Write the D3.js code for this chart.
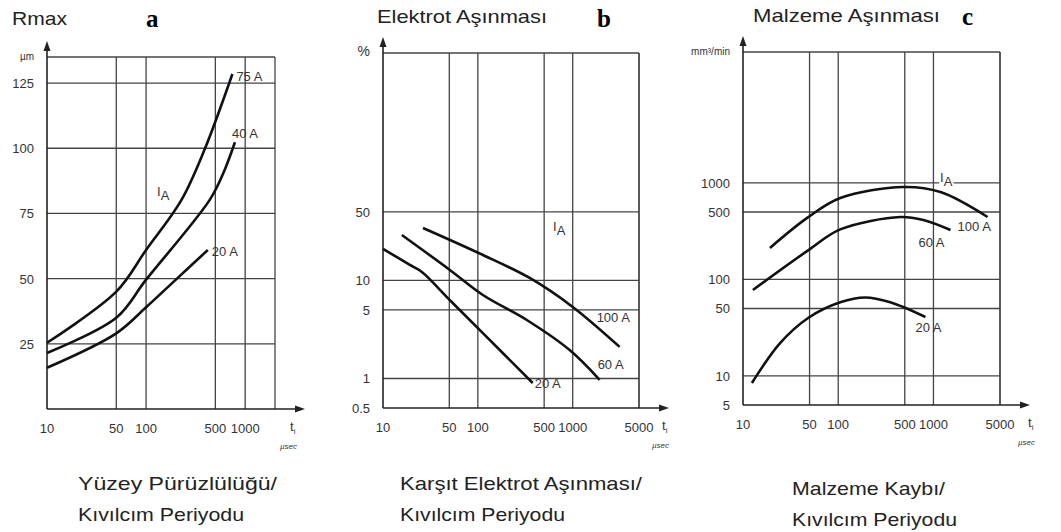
<!DOCTYPE html>
<html>
<head>
<meta charset="utf-8">
<script src="https://d3js.org/d3.v7.min.js"></script>
<style>
body { margin: 0; background: #fff; }
svg text { font-family: "Liberation Sans", Arial, sans-serif; fill: #222; }
.grid { stroke: #444; stroke-width: 1.3; fill: none; }
.curve { stroke: #111; stroke-width: 2.6; fill: none; }
.tick { font-size: 13px; fill: #333; }
.big { font-family: "Liberation Serif", serif; font-weight: bold; font-size: 25px; fill: #000; }
</style>
</head>
<body>
<svg id="chart" width="1061" height="532"></svg>
<script>
// --- data ---

// a: Rmax (µm) vs t_i (µs)
const aXTicks = [10, 50, 100, 500, 1000]
const aYTicks = [25, 50, 75, 100, 125]
const a75 = [[10, 25.4], [50, 45], [100, 61], [226, 80], [390, 99.6], [743, 128.5]]
const a40 = [[10, 21.5], [50, 35], [100, 49.6], [442, 80.4], [610, 91], [788, 102.3]]
const a20 = [[10, 15.8], [50, 29], [100, 39], [210, 50.4], [420, 61]]
const aLabels = ["75 A", "40 A", "20 A"]

// b: elektrot aşınması (%) vs t_i
const bXTicks = [10, 50, 100, 500, 1000, 5000]
const bYTicks = [0.5, 1, 5, 10, 50]
const b100 = [[26.4, 34.3], [113, 18.2], [352, 10.6], [1000, 5.37], [3125, 2.1]]
const b60 = [[15.8, 29.1], [50.7, 12.8], [113, 7.1], [328, 3.95], [929, 1.95], [1923, 0.97]]
const b20 = [[10, 21], [19.2, 14.4], [25.7, 12.2], [50.7, 6.3], [113, 2.9], [379, 0.9]]
const bLabels = ["100 A", "60 A", "20 A"]

// c: malzeme aşınması (mm³/min) vs t_i
const cXTicks = [10, 50, 100, 500, 1000, 5000]
const cYTicks = [5, 10, 50, 100, 500, 1000]
const c100 = [[19.2, 212], [47.2, 434], [105, 698], [483, 908], [1186, 805], [3700, 444]]
const c60 = [[12.7, 77.8], [50, 205], [105, 330], [450, 444], [785, 413], [1510, 325]]
const c20 = [[12.4, 8.45], [24.5, 21.9], [48.3, 39.9], [105, 58], [192, 65], [352, 58], [824, 40.8]]
const cLabels = ["100 A", "60 A", "20 A"]

const titles = ["Rmax", "Elektrot Aşınması", "Malzeme Aşınması"]
const letters = ["a", "b", "c"]
const yUnits = ["µm", "%", "mm³/min"]
const captions = [
  ["Yüzey Pürüzlülüğü/", "Kıvılcım Periyodu"],
  ["Karşıt Elektrot Aşınması/", "Kıvılcım Periyodu"],
  ["Malzeme Kaybı/", "Kıvılcım Periyodu"]
]

// --- layout for each panel ---
const panels = [
  {
    x: d3.scaleLog().domain([10, 2000]).range([47, 275]),
    y: d3.scaleLinear().domain([0, 135]).range([409, 57]),
    xTicks: aXTicks, yTicks: aYTicks, series: [a75, a40, a20], labels: aLabels,
    labelOff: [[4, 7], [-3, -4], [4, 6]],
    ia: [157, 196],
    title: [12, 25, 55], letter: [146, 27],
    caption: [78, 490, [199, 166]], tx: 290
  },
  {
    x: d3.scaleLog().domain([10, 5000]).range([383, 639]),
    y: d3.scaleLog().domain([0.5, 2090]).range([408, 53]),
    xTicks: bXTicks, yTicks: bYTicks, series: [b100, b60, b20], labels: bLabels,
    labelOff: [[-23, -25], [-2, -11], [2, 5]],
    ia: [553, 231],
    title: [377, 23, 170], letter: [597, 27],
    caption: [400, 490, [242, 165]], tx: 662
  },
  {
    x: d3.scaleLog().domain([10, 5000]).range([743, 1000]),
    y: d3.scaleLog().domain([5, 22750]).range([405, 52]),
    xTicks: cXTicks, yTicks: cYTicks, series: [c100, c60, c20], labels: cLabels,
    labelOff: [[-30, 14], [-32, 17], [-10, 15]],
    ia: [940, 182],
    title: [753, 22, 187], letter: [962, 25],
    caption: [792, 495, [153, 165]], tx: 1028
  }
]

const svg = d3.select("#chart")

panels.forEach((p, i) => {
  const g = svg.append("g")
  const [x0, x1] = p.x.range()
  const [y0, y1] = p.y.range()

  // grid lines
  g.selectAll(".vg").data(p.xTicks.slice(1)).enter().append("line")
    .attr("class", "grid")
    .attr("x1", d => p.x(d)).attr("x2", d => p.x(d))
    .attr("y1", y0).attr("y2", y1)
  g.selectAll(".hg").data(p.yTicks.filter(d => p.y(d) < y0 - 2)).enter().append("line")
    .attr("class", "grid")
    .attr("x1", x0).attr("x2", x1)
    .attr("y1", d => p.y(d)).attr("y2", d => p.y(d))

  // frame: top and right
  g.append("line").attr("class", "grid").attr("x1", x0).attr("x2", x1).attr("y1", y1).attr("y2", y1)
  g.append("line").attr("class", "grid").attr("x1", x1).attr("x2", x1).attr("y1", y1).attr("y2", y0)

  // axes with arrows
  g.append("line").attr("stroke", "#222").attr("stroke-width", 1.6)
    .attr("x1", x0).attr("x2", x1 + 24).attr("y1", y0).attr("y2", y0)
  g.append("path").attr("fill", "#222")
    .attr("d", `M${x1 + 30},${y0} L${x1 + 20},${y0 - 3.5} L${x1 + 20},${y0 + 3.5} Z`)
  g.append("line").attr("stroke", "#222").attr("stroke-width", 1.6)
    .attr("x1", x0).attr("x2", x0).attr("y1", y0).attr("y2", y1 - 10)
  g.append("path").attr("fill", "#222")
    .attr("d", `M${x0},${y1 - 16} L${x0 - 3.5},${y1 - 6} L${x0 + 3.5},${y1 - 6} Z`)

  // tick labels
  g.selectAll(".xt").data(p.xTicks).enter().append("text")
    .attr("class", "tick")
    .attr("x", d => p.x(d)).attr("y", y0 + 24)
    .attr("text-anchor", "middle")
    .text(d => d)
  g.selectAll(".yt").data(p.yTicks).enter().append("text")
    .attr("class", "tick")
    .attr("x", x0 - 13).attr("y", d => p.y(d) + 5)
    .attr("text-anchor", "end")
    .text(d => d)
  g.append("text").attr("class", "tick")
    .attr("x", x0 - 13).attr("y", y1 + 3)
    .attr("text-anchor", "end")
    .style("font-size", i == 1 ? "14px" : "10px")
    .text(yUnits[i])

  // t_i / µsec
  const t = g.append("text").attr("class", "tick").attr("x", p.tx).attr("y", y0 + 22)
  t.append("tspan").text("t")
  t.append("tspan").attr("dy", 3).style("font-size", "8px").text("i")
  g.append("text").attr("class", "tick")
    .attr("x", p.tx - 10).attr("y", y0 + 40)
    .style("font-size", "8px").style("font-style", "italic")
    .text("µsec")

  // curves
  const line = d3.line()
    .x(d => p.x(d[0])).y(d => p.y(d[1]))
    .curve(d3.curveCatmullRom.alpha(0.5))
  g.selectAll(".curve").data(p.series).enter().append("path")
    .attr("class", "curve")
    .attr("d", line)

  // curve labels at the line ends
  g.selectAll(".cl").data(p.series).enter().append("text")
    .attr("class", "tick")
    .attr("x", (d, k) => p.x(d[d.length - 1][0]) + p.labelOff[k][0])
    .attr("y", (d, k) => p.y(d[d.length - 1][1]) + p.labelOff[k][1])
    .text((d, k) => p.labels[k])

  // I_A
  const ia = g.append("text").attr("class", "tick")
    .attr("x", p.ia[0]).attr("y", p.ia[1])
    .style("paint-order", "stroke").style("stroke", "#fff").style("stroke-width", 4)
  ia.append("tspan").text("I")
  ia.append("tspan").attr("dy", 4).text("A")

  // titles
  g.append("text").attr("x", p.title[0]).attr("y", p.title[1])
    .style("font-size", "19px")
    .attr("textLength", p.title[2]).attr("lengthAdjust", "spacingAndGlyphs")
    .text(titles[i])
  g.append("text").attr("class", "big").attr("x", p.letter[0]).attr("y", p.letter[1])
    .text(letters[i])

  // caption
  g.selectAll(".cap").data(captions[i]).enter().append("text")
    .attr("x", p.caption[0]).attr("y", (d, k) => p.caption[1] + k * 31)
    .style("font-size", "19px")
    .attr("textLength", (d, k) => p.caption[2][k]).attr("lengthAdjust", "spacingAndGlyphs")
    .text(d => d)
})
</script>
</body>
</html>
